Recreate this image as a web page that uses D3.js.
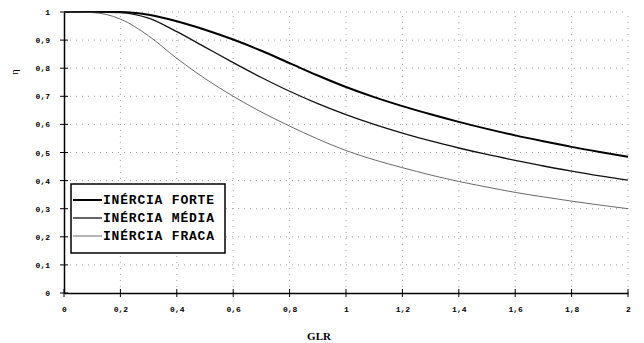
<!DOCTYPE html>
<html><head><meta charset="utf-8">
<script src="https://cdn.jsdelivr.net/npm/d3@7"></script>
<style>body{margin:0;background:#fff}</style>
</head><body>
<script>
const xs = [0,0.1,0.2,0.3,0.4,0.5,0.6,0.7,0.8,0.9,1.0,1.1,1.2,1.3,1.4,1.5,1.6,1.7,1.8,1.9,2.0];
const forte = [1,1,1,0.99,0.967,0.937,0.902,0.862,0.818,0.774,0.733,0.697,0.665,0.636,0.609,0.584,0.561,0.54,0.52,0.502,0.485];
const media = [1,1,0.998,0.978,0.93,0.875,0.82,0.767,0.718,0.674,0.635,0.6,0.569,0.541,0.516,0.493,0.472,0.452,0.434,0.417,0.402];
const fraca = [1,0.998,0.975,0.915,0.835,0.763,0.70,0.644,0.594,0.548,0.507,0.474,0.446,0.42,0.397,0.377,0.358,0.342,0.327,0.313,0.30];
const seriesNames = ["INÉRCIA FORTE","INÉRCIA MÉDIA","INÉRCIA FRACA"];
const xTicks = [0,0.2,0.4,0.6,0.8,1,1.2,1.4,1.6,1.8,2];
const yTicks = [0,0.1,0.2,0.3,0.4,0.5,0.6,0.7,0.8,0.9,1];
const xTitle = "GLR", yTitle = "η";

const W=644,H=343;
const svg=d3.select("body").append("svg").attr("width",W).attr("height",H);
const x=d3.scaleLinear().domain([0,2]).range([64,628]);
const y=d3.scaleLinear().domain([0,1]).range([293,12]);
const fmt=d=>d===0||d===1||d===2?String(d):String(d).replace(".",",");

// grid
svg.append("g").selectAll("line").data(xTicks.slice(1)).join("line")
 .attr("x1",d=>x(d)).attr("x2",d=>x(d)).attr("y1",y(0)).attr("y2",y(1))
 .attr("stroke","#888").attr("stroke-width",0.8).attr("stroke-dasharray","1,5");
svg.append("g").selectAll("line").data(yTicks.slice(1)).join("line")
 .attr("x1",x(0)).attr("x2",x(2)).attr("y1",d=>y(d)).attr("y2",d=>y(d))
 .attr("stroke","#888").attr("stroke-width",0.8).attr("stroke-dasharray","1,5");

// axes
const xa=d3.axisBottom(x).tickValues(xTicks).tickSize(0).tickPadding(13).tickFormat(fmt);
const ya=d3.axisLeft(y).tickValues(yTicks).tickSize(0).tickPadding(14).tickFormat(fmt);
const gx=svg.append("g").attr("transform",`translate(0,${y(0)})`).call(xa);
const gy=svg.append("g").attr("transform",`translate(${x(0)},0)`).call(ya);
[gx,gy].forEach(g=>{g.select(".domain").attr("stroke","#000").attr("stroke-width",1.5);
 g.selectAll("text").attr("font-family","Liberation Mono").attr("font-weight","bold").attr("font-size",8).attr("fill","#000");});
// tick crosses
svg.append("g").selectAll("line").data(xTicks).join("line")
 .attr("x1",d=>x(d)).attr("x2",d=>x(d)).attr("y1",y(0)-4).attr("y2",y(0)+4).attr("stroke","#000");
svg.append("g").selectAll("line").data(yTicks).join("line")
 .attr("x1",x(0)-4).attr("x2",x(0)+4).attr("y1",d=>y(d)).attr("y2",d=>y(d)).attr("stroke","#000");

// lines
const line=d3.line().x((d,i)=>x(xs[i])).y(d=>y(d)).curve(d3.curveMonotoneX);
const styles=[{w:2,c:"#000"},{w:1.3,c:"#111"},{w:0.8,c:"#444"}];
[forte,media,fraca].forEach((s,i)=>{
 svg.append("path").attr("d",line(s)).attr("fill","none").attr("stroke",styles[i].c).attr("stroke-width",styles[i].w);
});

// legend
const lg=svg.append("g");
lg.append("rect").attr("x",71).attr("y",184).attr("width",154).attr("height",69).attr("fill","#fff").attr("stroke","#000").attr("stroke-width",1.5);
seriesNames.forEach((n,i)=>{
 const yy=200+i*18;
 lg.append("line").attr("x1",73).attr("x2",102).attr("y1",yy).attr("y2",yy).attr("stroke",styles[i].c).attr("stroke-width",styles[i].w);
 lg.append("text").attr("x",103).attr("y",yy+4).text(n).attr("font-family","Liberation Mono").attr("font-weight","bold").attr("font-size",13).attr("letter-spacing",0.8);
});

svg.append("text").attr("x",319).attr("y",340).attr("text-anchor","middle").text(xTitle)
 .attr("font-family","Liberation Serif").attr("font-weight","bold").attr("font-size",11);
svg.append("text").attr("transform","translate(18,72) rotate(-90)").attr("text-anchor","middle").text(yTitle)
 .attr("font-family","Liberation Serif").attr("font-size",11);
</script>
</body></html>
